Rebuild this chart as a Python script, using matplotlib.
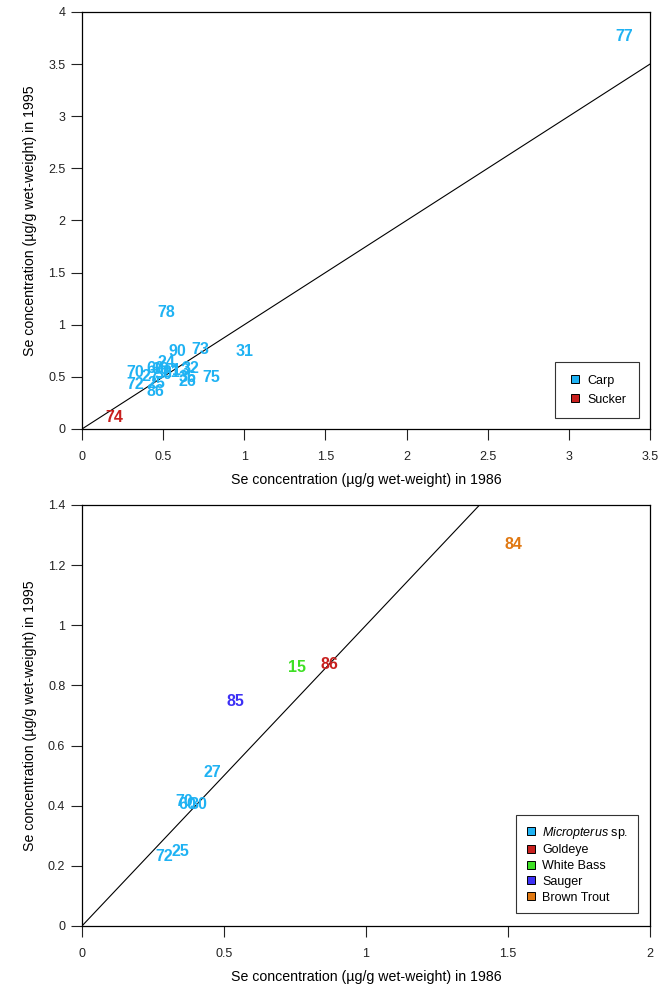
import matplotlib
matplotlib.use("Agg")
import matplotlib.pyplot as plt
from matplotlib.lines import Line2D

plt.rcParams['font.family'] = ['Liberation Sans', 'DejaVu Sans']
plt.rcParams['mathtext.fontset'] = 'custom'
plt.rcParams['mathtext.rm'] = 'Liberation Sans'
plt.rcParams['mathtext.it'] = 'Liberation Sans:italic'

# ---- Top panel data (Carp / Sucker) ----
top_labels = ["77", "78", "90", "73", "31", "75", "32", "13", "21", "26", "36",
              "24", "60", "69", "25", "70", "72", "86", "27", "30"]
top_x = [3.34, 0.52, 0.59, 0.73, 1.00, 0.80, 0.67, 0.61, 0.55, 0.65, 0.65,
         0.52, 0.45, 0.48, 0.46, 0.33, 0.33, 0.45, 0.42, 0.50]
top_y = [3.76, 1.12, 0.74, 0.76, 0.74, 0.49, 0.58, 0.56, 0.54, 0.46, 0.49,
         0.64, 0.58, 0.57, 0.44, 0.54, 0.43, 0.36, 0.50, 0.52]
sucker_labels = ["74"]
sucker_x = [0.20]
sucker_y = [0.11]

# ---- Bottom panel data ----
micro_labels = ["27", "70", "60", "30", "72", "25"]
micro_x = [0.46, 0.36, 0.37, 0.41, 0.29, 0.345]
micro_y = [0.51, 0.415, 0.405, 0.405, 0.23, 0.246]
goldeye_labels = ["86"]; goldeye_x = [0.87]; goldeye_y = [0.87]
wbass_labels = ["15"]; wbass_x = [0.757]; wbass_y = [0.86]
sauger_labels = ["85"]; sauger_x = [0.54]; sauger_y = [0.745]
btrout_labels = ["84"]; btrout_x = [1.52]; btrout_y = [1.27]

C_BLUE = "#1fb2f3"
C_RED = "#c8201e"
C_GREEN = "#3ee024"
C_PURPLE = "#3d30f5"
C_ORANGE = "#e07812"

xlabel = "Se concentration (\u00b5g/g wet-weight) in 1986"
ylabel = "Se concentration (\u00b5g/g wet-weight) in 1995"

fig = plt.figure(figsize=(6.59, 9.88), dpi=100)
ax1 = fig.add_axes([0.1244, 0.5658, 0.8619, 0.4221])
ax2 = fig.add_axes([0.1244, 0.0628, 0.8619, 0.4261])


def style(ax, xmax, ymax, xticks, yticks):
    ax.set_xlim(0, xmax)
    ax.set_ylim(0, ymax)
    ax.set_xticks(xticks)
    ax.set_yticks(yticks)
    ax.set_xticklabels([f"{t:g}" for t in xticks])
    ax.set_yticklabels([f"{t:g}" for t in yticks])
    ax.tick_params(axis='x', direction='out', length=8, width=0.8, pad=8, labelsize=9, colors='#222222')
    ax.tick_params(axis='y', direction='out', length=8, width=0.8, pad=4, labelsize=9, colors='#222222')
    for s in ax.spines.values():
        s.set_linewidth(0.9)
    ax.set_xlabel(xlabel, fontsize=10.2, labelpad=7)
    ax.set_ylabel(ylabel, fontsize=10.2, labelpad=8)
    ax.plot([0, xmax], [0, xmax], color='black', lw=0.8)


def labels(ax, xs, ys, ls, color):
    for x, y, l in zip(xs, ys, ls):
        ax.text(x, y, l, color=color, fontsize=11.5, fontweight='bold',
                ha='center', va='center')


def handles(colors):
    return [Line2D([], [], marker='s', ls='none', markerfacecolor=c, markeredgecolor='black',
                   markersize=5.5, markeredgewidth=0.7) for c in colors]


style(ax1, 3.5, 4, [0, 0.5, 1, 1.5, 2, 2.5, 3, 3.5], [0, 0.5, 1, 1.5, 2, 2.5, 3, 3.5, 4])
labels(ax1, top_x, top_y, top_labels, C_BLUE)
labels(ax1, sucker_x, sucker_y, sucker_labels, C_RED)

leg1 = ax1.legend(handles([C_BLUE, C_RED]), ["Carp", "Sucker"], loc='lower right',
                  bbox_to_anchor=(0.981, 0.026), borderaxespad=0,
                  fontsize=9, fancybox=False, edgecolor='#333333', framealpha=1,
                  handlelength=1.2, handletextpad=0.4, borderpad=1.0, labelspacing=0.55)
leg1.get_frame().set_linewidth(0.8)

style(ax2, 2, 1.4, [0, 0.5, 1, 1.5, 2], [0, 0.2, 0.4, 0.6, 0.8, 1, 1.2, 1.4])
labels(ax2, micro_x, micro_y, micro_labels, C_BLUE)
labels(ax2, goldeye_x, goldeye_y, goldeye_labels, C_RED)
labels(ax2, wbass_x, wbass_y, wbass_labels, C_GREEN)
labels(ax2, sauger_x, sauger_y, sauger_labels, C_PURPLE)
labels(ax2, btrout_x, btrout_y, btrout_labels, C_ORANGE)

cols = [C_BLUE, C_RED, C_GREEN, C_PURPLE, C_ORANGE]
names = ["$\\it{Micropterus}$ sp.", "Goldeye", "White Bass", "Sauger", "Brown Trout"]
leg2 = ax2.legend(handles(cols), names, loc='lower right',
                  bbox_to_anchor=(0.979, 0.031), borderaxespad=0,
                  fontsize=9, fancybox=False, edgecolor='#333333', framealpha=1,
                  handlelength=0.9, handletextpad=0.45, borderpad=0.75, labelspacing=0.3)
leg2.get_frame().set_linewidth(0.8)

fig.savefig("out.png", dpi=100)
